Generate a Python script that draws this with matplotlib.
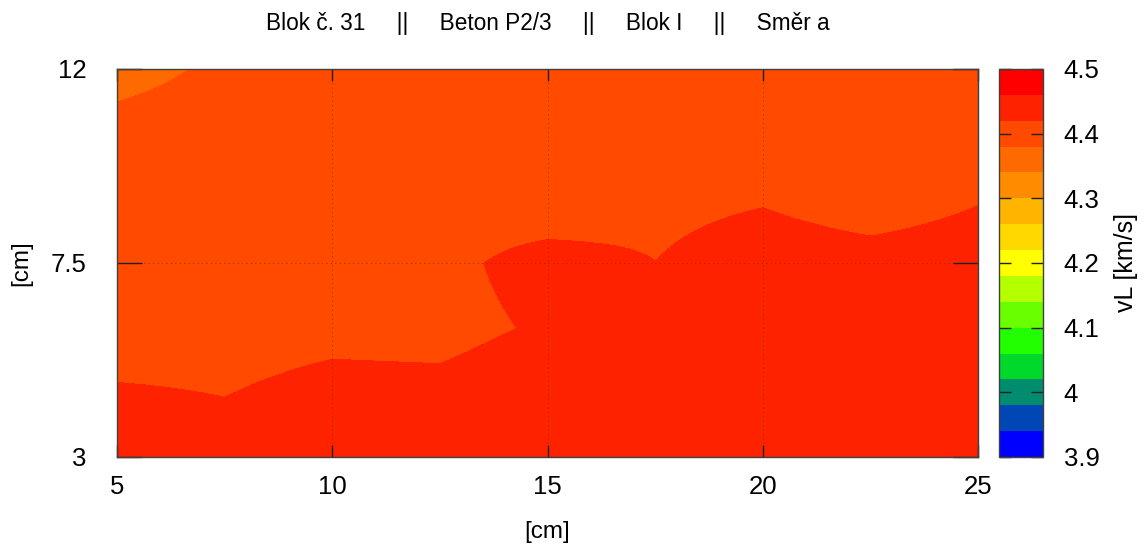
import numpy as np
import matplotlib
matplotlib.use("Agg")
import matplotlib.pyplot as plt
from matplotlib.colors import ListedColormap, BoundaryNorm
from matplotlib.ticker import FormatStrFormatter

# ---- data: vL [km/s] at measuring nodes ----
x_nodes = [5, 7.5, 10, 12.5, 15, 17.5, 20, 22.5, 25]
y_nodes = [3, 4.5, 6, 7.5, 9, 10.5, 12]
vl_y3    = [4.440, 4.435, 4.445, 4.445, 4.450, 4.450, 4.450, 4.450, 4.450]
vl_y4_5  = [4.424, 4.419, 4.431, 4.430, 4.445, 4.445, 4.450, 4.450, 4.450]
vl_y6    = [4.400, 4.405, 4.410, 4.408, 4.425, 4.440, 4.445, 4.445, 4.445]
vl_y7_5  = [4.400, 4.400, 4.400, 4.410, 4.435, 4.4205, 4.440, 4.435, 4.440]
vl_y9    = [4.395, 4.400, 4.400, 4.405, 4.395, 4.410, 4.417, 4.400, 4.418]
vl_y10_5 = [4.390, 4.395, 4.400, 4.400, 4.405, 4.400, 4.405, 4.400, 4.405]
vl_y12   = [4.370, 4.385, 4.395, 4.400, 4.400, 4.400, 4.400, 4.400, 4.400]

x_ticks = [5, 10, 15, 20, 25]
y_ticks = [3, 7.5, 12]
cb_ticks = [3.9, 4.0, 4.1, 4.2, 4.3, 4.4, 4.5]
cb_min, cb_max, n_bands = 3.9, 4.5, 15
band_colors = ["#0000FF", "#0047B5", "#008C6E", "#00D82A", "#22FF00",
               "#6AFF00", "#B4FF00", "#FFFF00", "#FFD800", "#FFB400",
               "#FF8C00", "#FF6A00", "#FF4A00", "#FF2200", "#FF0000"]
title = "Blok č. 31     ||     Beton P2/3     ||     Blok I     ||     Směr a"

plt.rcParams["font.family"] = ["Liberation Sans", "DejaVu Sans"]

Z = np.array([vl_y3, vl_y4_5, vl_y6, vl_y7_5, vl_y9, vl_y10_5, vl_y12])
dx = x_nodes[1] - x_nodes[0]
dy = y_nodes[1] - y_nodes[0]

W, H = 1145, 548
fig = plt.figure(figsize=(W / 100, H / 100), dpi=100)
ax = fig.add_axes([117 / W, 1 - 457 / H, (978 - 117) / W, (457 - 69) / H])
cax = fig.add_axes([999 / W, 1 - 457 / H, (1043 - 999) / W, (457 - 69) / H])

bounds = np.linspace(cb_min, cb_max, n_bands + 1)
cmap = ListedColormap(band_colors)
norm = BoundaryNorm(bounds, cmap.N)

im = ax.imshow(Z, origin="lower", cmap=cmap, norm=norm, aspect="auto",
               interpolation="bilinear", interpolation_stage="data",
               extent=[x_nodes[0] - dx / 2, x_nodes[-1] + dx / 2,
                       y_nodes[0] - dy / 2, y_nodes[-1] + dy / 2])
ax.set_xlim(x_nodes[0], x_nodes[-1])
ax.set_ylim(y_nodes[0], y_nodes[-1])

ax.set_xticks(x_ticks)
ax.set_yticks(y_ticks)
ax.set_xticklabels([f"{v:g}" for v in x_ticks])
ax.set_yticklabels([f"{v:g}" for v in y_ticks])
ax.tick_params(axis="x", direction="in", length=8.6, width=1.0, top=True,
               bottom=True, labelsize=18.5, pad=13, color="#202020")
ax.tick_params(axis="y", direction="in", length=18, width=1.0, left=True,
               right=True, labelsize=18.5, pad=22, color="#202020")
ax.grid(True, linestyle=(0, (1, 3)), linewidth=0.8, color="#803018", alpha=0.7)
for s in ax.spines.values():
    s.set_color("#404040")
    s.set_linewidth(1.0)

ax.set_xlabel("[cm]", fontsize=17.5, labelpad=16)
ax.set_ylabel("[cm]", fontsize=17.5, labelpad=13)
ax.set_title(title, fontsize=16.3, pad=28)

cb = fig.colorbar(im, cax=cax, ticks=cb_ticks)
cb.ax.yaxis.set_major_formatter(FormatStrFormatter("%g"))
cb.ax.tick_params(axis="y", direction="in", length=8.6, width=1.0, left=True,
                  right=True, labelsize=18.5, pad=15, color="#202020")
cb.ax.minorticks_off()
cb.outline.set_edgecolor("#404040")
cb.outline.set_linewidth(1.0)
cb.set_label("vL [km/s]", fontsize=18, labelpad=10)

fig.savefig("out.png", dpi=100)
